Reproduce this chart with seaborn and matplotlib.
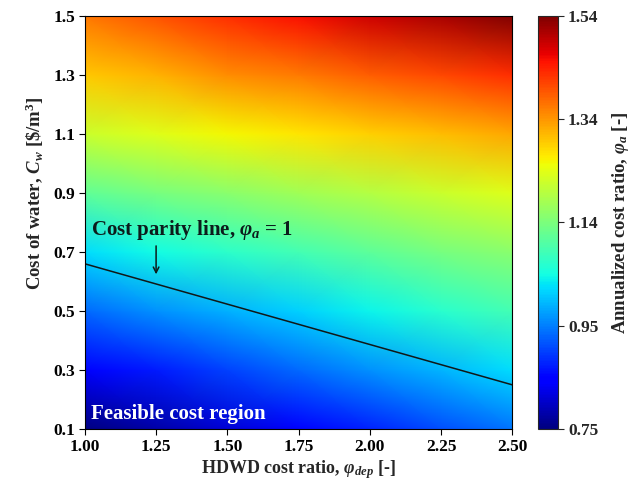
import numpy as np
import matplotlib
matplotlib.use("Agg")
import matplotlib.pyplot as plt
import seaborn as sns

# ---- data ----
phi_dep = [1.00, 1.25, 1.50, 1.75, 2.00, 2.25, 2.50]
cost_water = [0.1, 0.3, 0.5, 0.7, 0.9, 1.1, 1.3, 1.5]
# annualized cost ratio, one list per phi_dep column (values along cost_water)
phi_a_x100 = [0.75, 0.84, 0.93, 1.02, 1.12, 1.22, 1.30, 1.37]
phi_a_x125 = [0.78, 0.87, 0.96, 1.045, 1.14, 1.24, 1.32, 1.40]
phi_a_x150 = [0.81, 0.90, 0.985, 1.07, 1.16, 1.26, 1.35, 1.43]
phi_a_x175 = [0.845, 0.93, 1.01, 1.09, 1.18, 1.275, 1.365, 1.455]
phi_a_x200 = [0.875, 0.96, 1.04, 1.115, 1.20, 1.295, 1.39, 1.485]
phi_a_x225 = [0.91, 0.99, 1.065, 1.14, 1.22, 1.31, 1.41, 1.51]
phi_a_x250 = [0.94, 1.02, 1.09, 1.16, 1.24, 1.33, 1.43, 1.54]

parity_x = [1.00, 2.50]
parity_y = [0.66, 0.25]

xticks = [1.00, 1.25, 1.50, 1.75, 2.00, 2.25, 2.50]
yticks = [0.1, 0.3, 0.5, 0.7, 0.9, 1.1, 1.3, 1.5]
cbar_ticks = [0.75, 0.9475, 1.145, 1.3425, 1.54]
cbar_labels = ["0.75", "0.95", "1.14", "1.34", "1.54"]
vmin, vmax = 0.75, 1.54

# ---- style ----
sns.set_style("ticks")
plt.rcParams["font.family"] = ["Liberation Serif", "DejaVu Serif"]
plt.rcParams["font.weight"] = "bold"
plt.rcParams["mathtext.fontset"] = "custom"
plt.rcParams["mathtext.rm"] = "Liberation Serif:bold"
plt.rcParams["mathtext.it"] = "Liberation Serif:italic:bold"
plt.rcParams["mathtext.bf"] = "Liberation Serif:bold"

Z = np.array([phi_a_x100, phi_a_x125, phi_a_x150, phi_a_x175,
              phi_a_x200, phi_a_x225, phi_a_x250]).T
X, Y = np.meshgrid(phi_dep, cost_water)

fig = plt.figure(figsize=(6.38, 4.8), dpi=100)
ax = fig.add_axes([0.133, 0.106, 0.670, 0.861])
cax = fig.add_axes([0.843, 0.106, 0.031, 0.861])

mesh = ax.pcolormesh(X, Y, Z, shading="gouraud", cmap="jet", vmin=vmin, vmax=vmax)
sns.lineplot(x=parity_x, y=parity_y, color="#101818", lw=1.1, ax=ax, legend=False)

ax.set_xlim(1.0, 2.5)
ax.set_ylim(0.1, 1.5)
ax.set_xticks(xticks)
ax.set_xticklabels([f"{t:.2f}" for t in xticks])
ax.set_yticks(yticks)
ax.set_yticklabels([f"{t:.1f}" for t in yticks])
ax.tick_params(labelsize=12.5, length=4, width=0.8, direction="out", colors="black", pad=3)
for lab in ax.get_xticklabels() + ax.get_yticklabels():
    lab.set_fontweight("bold")
for s in ax.spines.values():
    s.set_color("black")
    s.set_linewidth(0.8)

ax.set_xlabel(r"HDWD cost ratio, $\varphi_{dep}$ [-]", fontsize=13, fontweight="bold", labelpad=2)
ax.set_ylabel(r"Cost of water, $C_w$ [\$/m$^3$]", fontsize=13.5, fontweight="bold")
ax.yaxis.set_label_coords(-0.09, 0.571)

ax.text(1.02, 0.775, r"Cost parity line, $\varphi_a$ = 1", fontsize=15, fontweight="bold",
        color="#0c1c1c", ha="left", va="center")
ax.annotate("", xy=(1.25, 0.615), xytext=(1.25, 0.73),
            arrowprops=dict(arrowstyle="->", color="#0c1c1c", lw=1.1))
ax.text(1.02, 0.15, "Feasible cost region", fontsize=15, fontweight="bold",
        color="white", ha="left", va="center")

cb = fig.colorbar(mesh, cax=cax)
cb.set_ticks(cbar_ticks)
cb.set_ticklabels(cbar_labels)
cb.ax.tick_params(labelsize=12.5, length=4, width=0.8)
for lab in cb.ax.get_yticklabels():
    lab.set_fontweight("bold")
cb.outline.set_linewidth(0.8)
cb.set_label(r"Annualized cost ratio, $\varphi_a$ [-]", fontsize=13.5, fontweight="bold", labelpad=8)

fig.savefig("out.png", dpi=100)
